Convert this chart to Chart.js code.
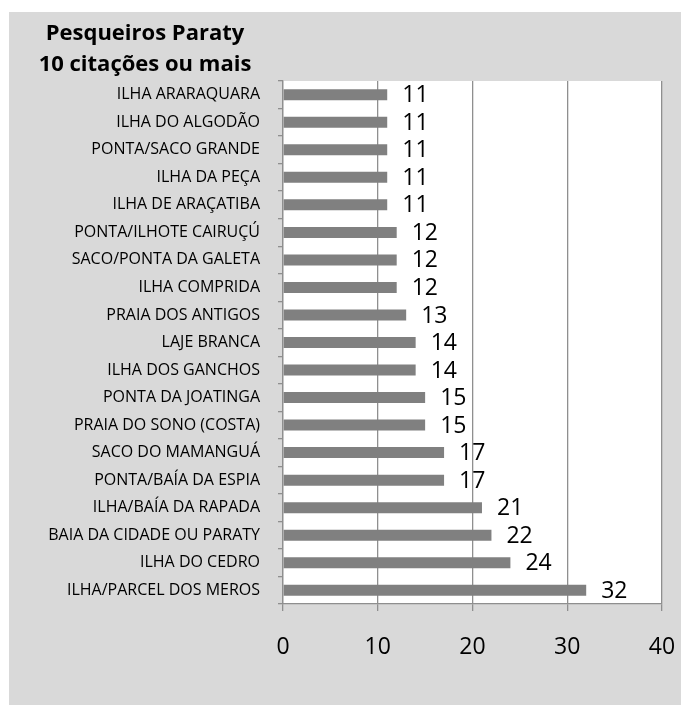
<!DOCTYPE html>
<html>
<head>
<meta charset="utf-8">
<script src="https://cdn.jsdelivr.net/npm/chart.js@4"></script>
<style>
  html, body { margin: 0; background: #fff; }
  #wrap { position: absolute; left: 9px; top: 12px; width: 672px; height: 693px; background: #d9d9d9; }
</style>
</head>
<body>
<div id="wrap"><canvas id="pesqueiros" width="672" height="693"></canvas></div>
<script>
const titleLines = ['Pesqueiros Paraty', '10 citações ou mais']

const places = [
  'ILHA ARARAQUARA',
  'ILHA DO ALGODÃO',
  'PONTA/SACO GRANDE',
  'ILHA DA PEÇA',
  'ILHA DE ARAÇATIBA',
  'PONTA/ILHOTE CAIRUÇÚ',
  'SACO/PONTA DA GALETA',
  'ILHA COMPRIDA',
  'PRAIA DOS ANTIGOS',
  'LAJE BRANCA',
  'ILHA DOS GANCHOS',
  'PONTA DA JOATINGA',
  'PRAIA DO SONO (COSTA)',
  'SACO DO MAMANGUÁ',
  'PONTA/BAÍA DA ESPIA',
  'ILHA/BAÍA DA RAPADA',
  'BAIA DA CIDADE OU PARATY',
  'ILHA DO CEDRO',
  'ILHA/PARCEL DOS MEROS'
]

const citations = [11, 11, 11, 11, 11, 12, 12, 12, 13, 14, 14, 15, 15, 17, 17, 21, 22, 24, 32]

const xTicks = [0, 10, 20, 30, 40]

const FONT = "'Open Sans', 'DejaVu Sans', sans-serif"

// white plot area on the gray chart background
const plotBg = {
  id: 'plotBg',
  beforeDraw(chart) {
    const { ctx, chartArea: a } = chart
    ctx.save()
    ctx.fillStyle = '#fff'
    ctx.fillRect(a.left, a.top, a.right - a.left, a.bottom - a.top)
    ctx.restore()
  }
}

// two-line bold title, centered over the category labels
const titleBlock = {
  id: 'titleBlock',
  afterDraw(chart) {
    const { ctx } = chart
    ctx.save()
    ctx.font = 'bold 22px ' + FONT
    ctx.fillStyle = '#000'
    ctx.textAlign = 'center'
    ctx.textBaseline = 'alphabetic'
    titleLines.forEach((t, i) => ctx.fillText(t, 136, 28 + i * 31))
    ctx.restore()
  }
}

// value written just past the end of each bar
const valueLabels = {
  id: 'valueLabels',
  afterDatasetsDraw(chart) {
    const { ctx } = chart
    const meta = chart.getDatasetMeta(0)
    ctx.save()
    ctx.font = '23px ' + FONT
    ctx.fillStyle = '#000'
    ctx.textAlign = 'left'
    ctx.textBaseline = 'middle'
    meta.data.forEach((bar, i) => {
      ctx.fillText(String(citations[i]), bar.x + 15, bar.y + 1)
    })
    ctx.restore()
  }
}

new Chart(document.getElementById('pesqueiros'), {
  type: 'bar',
  data: {
    labels: places,
    datasets: [{
      data: citations,
      backgroundColor: '#808080',
      borderWidth: 0,
      barPercentage: 0.4,
      categoryPercentage: 1
    }]
  },
  options: {
    indexAxis: 'y',
    responsive: false,
    animation: false,
    layout: { padding: { top: 69, right: 19, left: 0, bottom: 0 } },
    plugins: {
      legend: { display: false },
      tooltip: { enabled: false }
    },
    scales: {
      x: {
        min: 0,
        max: 40,
        // fixed height, and no extra side room for the end labels
        afterFit: s => { s.height = 101; s.paddingLeft = 0; s.paddingRight = 0 },
        afterBuildTicks: s => { s.ticks = xTicks.map(v => ({ value: v })) },
        grid: { color: '#8f8f8f', lineWidth: 1.3, tickLength: 7, drawTicks: true },
        border: { color: '#8f8f8f', width: 1.3 },
        ticks: { color: '#000', padding: 23, font: { family: FONT, size: 23 } }
      },
      y: {
        afterFit: s => { s.width = 274 },
        grid: { drawOnChartArea: false, color: '#8f8f8f', lineWidth: 1.3, tickLength: 5 },
        border: { color: '#8f8f8f', width: 1.3 },
        ticks: { color: '#000', padding: 18, autoSkip: false, font: { family: FONT, size: 16 } }
      }
    }
  },
  plugins: [plotBg, titleBlock, valueLabels]
})
</script>
</body>
</html>
